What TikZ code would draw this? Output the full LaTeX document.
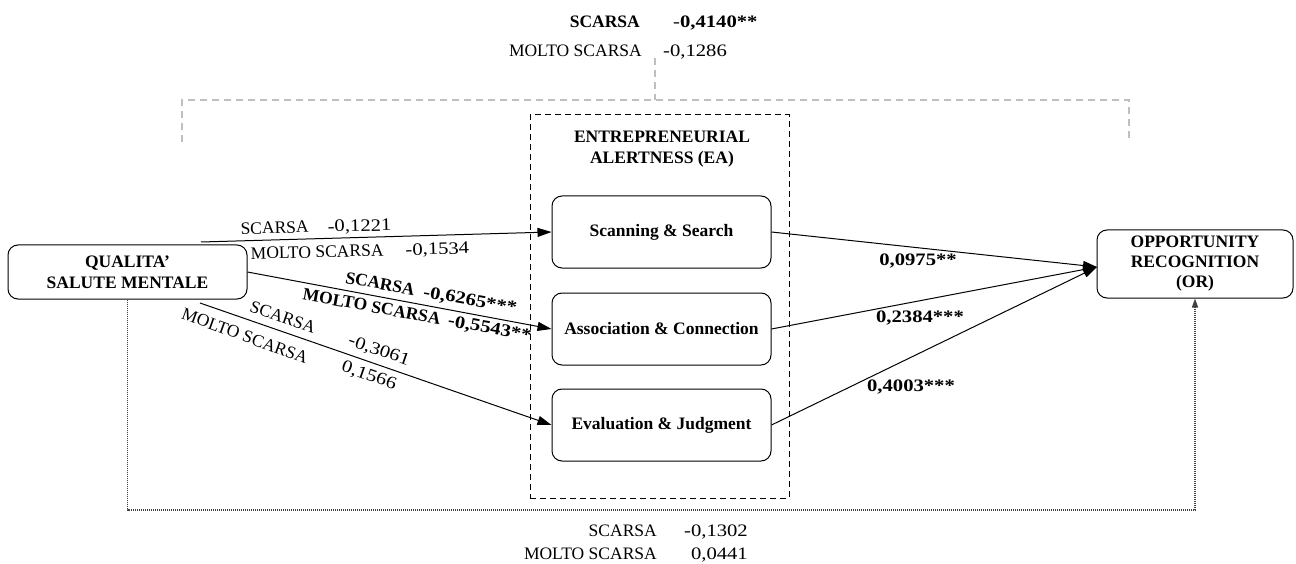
\documentclass[tikz,border=0pt]{standalone}
\usepackage{fontspec}
\setmainfont{Liberation Serif}
% coefficients are set slightly wider than the names
\newfontfamily\numfont[FakeStretch=1.18]{Liberation Serif}
\usetikzlibrary{arrows.meta}
\begin{document}
\begin{tikzpicture}[x=1pt,y=-1pt,
  every node/.style={font=\fontsize{17.5}{21}\selectfont, inner sep=0pt},
  bf/.style={font=\fontsize{17.5}{21}\selectfont\bfseries},
  box/.style={draw, line width=1pt, rounded corners=10pt, align=center,
    font=\fontsize{17.5}{21}\selectfont\bfseries},
  eabox/.style={draw, line width=1pt, dash pattern=on 6pt off 4pt},
  link/.style={line width=1pt, -{Triangle[length=14pt,width=9pt]}},
  bracket/.style={draw=black!25, line width=1.3pt, dash pattern=on 7pt off 5pt},
  dotlink/.style={draw=black!75, line width=1.5pt, dash pattern=on 1.4pt off 0.6pt,
    -{Triangle[length=9pt,width=6pt]}}
]
\useasboundingbox (0,0) rectangle (1296,564);

% mediator frame and its title
\node[eabox, minimum width=259pt, minimum height=383pt] (ea) at (659.5,306.5) {};
\node[bf, align=center] (eat) at (662,149) {ENTREPRENEURIAL\\ALERTNESS (EA)};

% constructs
\node[box, minimum width=239pt, minimum height=54pt] (q) at (127.5,272) {QUALITA’\\SALUTE MENTALE};
\node[box, minimum width=219pt, minimum height=72pt] (s) at (661.5,232) {Scanning \& Search};
\node[box, minimum width=219pt, minimum height=72pt] (a) at (661.5,329) {Association \& Connection};
\node[box, minimum width=219pt, minimum height=72pt] (e) at (661.5,425) {Evaluation \& Judgment};
\node[box, minimum width=196pt, minimum height=68pt, align=center] (or) at (1195,264)
  {OPPORTUNITY\\[-1pt]RECOGNITION\\[-1pt](OR)};

% free ends
\coordinate (qs) at (201,242);
\coordinate (qe) at (200,303);
\coordinate (orin) at (1097,267);
\coordinate (low) at (0,510);

% total effect bracket
\coordinate (bl) at (182,142);
\coordinate (br) at (1129,138);
\coordinate (bm) at (655,58);
\draw[bracket] (bl) -- (bl |- 0,100) -- (br |- 0,100) -- (br);
\draw[bracket] (bm) -- (bm |- 0,100);

% paths to the mediators
\draw[link] (qs) -- (s.west);
\draw[link] (q.east) -- (a.west);
\draw[link] (qe) -- (e.west);

% paths to the outcome
\draw[link] (s.east) -- (orin);
\draw[link] (a.east) -- (orin);
\draw[link] (e.east) -- (orin);

% direct effect
\draw[dotlink] (q.south) -- (q.south |- low) -| (or.south);

% coefficients on the first path
\node[rotate=1.5] (c1) at (316,228) {SCARSA\hspace{19pt}{\numfont -0,1221}};
\node[rotate=1.5] (c2) at (360,252) {MOLTO SCARSA\hspace{22pt}{\numfont -0,1534}};

% coefficients on the second path
\node[bf, rotate=-10.2] (c3) at (431,294) {SCARSA\hspace{9pt}{\numfont -0,6265***}};
\node[bf, rotate=-10.2] (c4) at (417,316) {MOLTO SCARSA\hspace{8pt}{\numfont -0,5543**}};

% coefficients on the third path
\node[rotate=-19] (c5) at (283,317) {SCARSA};
\node[rotate=-20] (c6) at (245,336) {MOLTO SCARSA};
\node[rotate=-19] (c7) at (379,351) {\numfont -0,3061};
\node[rotate=-19] (c8) at (369,376) {\numfont 0,1566};

% mediator to outcome coefficients
\node[bf] (d1) at (918,261) {\numfont 0,0975**};
\node[bf] (d2) at (920,318) {\numfont 0,2384***};
\node[bf] (d3) at (911,387) {\numfont 0,4003***};

% total effect
\node[bf, anchor=base east] (t1) at (640,28) {SCARSA};
\node[anchor=base west] (t2) at (673,28) {\numfont -\textbf{0,4140**}};
\node[anchor=base east] (t3) at (642,57) {MOLTO SCARSA};
\node[anchor=base west] (t4) at (663,57) {\numfont -0,1286};

% direct effect
\node[anchor=base east] (b1) at (657,536) {SCARSA};
\node[anchor=base east] (b2) at (748,536) {\numfont -0,1302};
\node[anchor=base east] (b3) at (657,559) {MOLTO SCARSA};
\node[anchor=base east] (b4) at (748,559) {\numfont 0,0441};
\end{tikzpicture}
\end{document}
